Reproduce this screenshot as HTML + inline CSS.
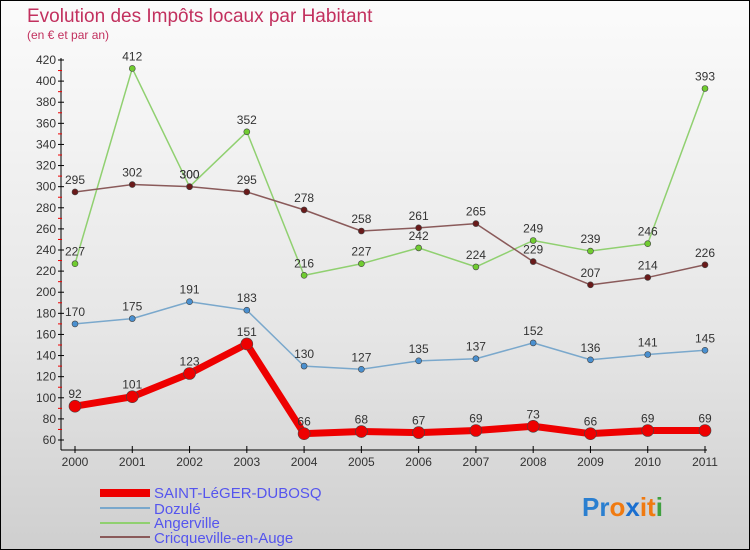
<!DOCTYPE html>
<html><head><meta charset="utf-8"><style>
html,body{margin:0;padding:0}
body{width:750px;height:550px;overflow:hidden;font-family:"Liberation Sans",sans-serif}
#wrap{position:absolute;left:0;top:0;width:748px;height:548px;border:1px solid #000;background:linear-gradient(#fbfbfb,#e6e6e6 60%,#cfcfcf)}
</style></head><body>
<div id="wrap">
<svg id="chart" width="750" height="550" style="position:absolute;left:-1px;top:-1px">
<text x="27" y="22" font-size="19" fill="#c2305e">Evolution des Impôts locaux par Habitant</text>
<text x="27" y="39" font-size="12" fill="#c2305e">(en € et par an)</text>
<g id="axes"></g><g id="series"></g>
<g>
<rect x="100" y="489" width="50" height="8" fill="#e00"/>
<text x="154" y="498" font-size="15" fill="#5555ee">SAINT-LéGER-DUBOSQ</text>
<line x1="100" x2="150" y1="508" y2="508" stroke="#7aa8cc" stroke-width="2"/>
<text x="154" y="514" font-size="15" fill="#5555ee">Dozulé</text>
<line x1="100" x2="150" y1="523" y2="523" stroke="#90d070" stroke-width="2"/>
<text x="154" y="528" font-size="15" fill="#5555ee">Angerville</text>
<line x1="100" x2="150" y1="537" y2="537" stroke="#8a5a5a" stroke-width="2"/>
<text x="154" y="543" font-size="15" fill="#5555ee">Cricqueville-en-Auge</text>
</g>
<text x="582" y="516" font-size="26" font-weight="bold"><tspan fill="#2a7fd0">Pr</tspan><tspan fill="#f07a10">o</tspan><tspan fill="#1a6fd0">x</tspan><tspan fill="#f07a10">it</tspan><tspan fill="#40a040">i</tspan></text>
</svg></div>
<script>
const years=[2000,2001,2002,2003,2004,2005,2006,2007,2008,2009,2010,2011];
const saintLeger=[92,101,123,151,66,68,67,69,73,66,69,69];
const dozule=[170,175,191,183,130,127,135,137,152,136,141,145];
const angerville=[227,412,300,352,216,227,242,224,249,239,246,393];
const cricqueville=[295,302,300,295,278,258,261,265,229,207,214,226];
const yTicks=[60,80,100,120,140,160,180,200,220,240,260,280,300,320,340,360,380,400,420];
const NS="http://www.w3.org/2000/svg";
const X=i=>75+i*(630/11);
const Y=v=>440-(v-60)*(380/360);
function mk(t,a,p){const e=document.createElementNS(NS,t);for(const k in a)e.setAttribute(k,a[k]);p.appendChild(e);return e;}
const ax=document.getElementById('axes');
let l=mk('line',{x1:61,x2:61,y1:58,y2:450,stroke:'#000'},ax);


l=mk('line',{x1:61,x2:707,y1:450,y2:450,stroke:'#000'},ax);


yTicks.forEach(v=>{
 mk('line',{x1:58,x2:64,y1:Y(v),y2:Y(v),stroke:'#000'},ax);
 const t=mk('text',{x:56,y:Y(v)+4,'font-size':12,fill:'#333','text-anchor':'end'},ax);
 t.textContent=v;
 
 
 if(v<420) mk('line',{x1:58,x2:62,y1:Y(v+10),y2:Y(v+10),stroke:'#e00'},ax);
});
years.forEach((y,i)=>{
 mk('line',{x1:X(i),x2:X(i),y1:446,y2:453,stroke:'#000'},ax);
 const t=mk('text',{x:X(i),y:466,'font-size':12,fill:'#333','text-anchor':'middle'},ax);
 t.textContent=y;
 
 
});
const sg=document.getElementById('series');
function draw(vals,color,w,r,dot,name){
 const g=mk('g',{},sg);
 
 
 const p=mk('polyline',{points:vals.map((v,i)=>X(i)+','+Y(v)).join(' '),fill:'none',stroke:color,'stroke-width':w,'stroke-linejoin':'round'},g);
 
 
 vals.forEach((v,i)=>{
  const c=mk('circle',{cx:X(i),cy:Y(v),r:r,fill:dot,stroke:'#444','stroke-width':0.6},g);
  
  
  const t=mk('text',{x:X(i),y:Y(v)-8,'font-size':12,fill:'#333','text-anchor':'middle'},g);
  t.textContent=v;
  
  
 });
}
draw(dozule,'#7aa8cc',1.5,3,'#4a90d0','dozule');
draw(angerville,'#90d070',1.5,3,'#70cc30','angerville');
draw(cricqueville,'#8a5a5a',1.5,3,'#6a1a1a','cricqueville');
draw(saintLeger,'#ee0000',7,6,'#ee0000','saint-leger');
</script>
</body></html>
